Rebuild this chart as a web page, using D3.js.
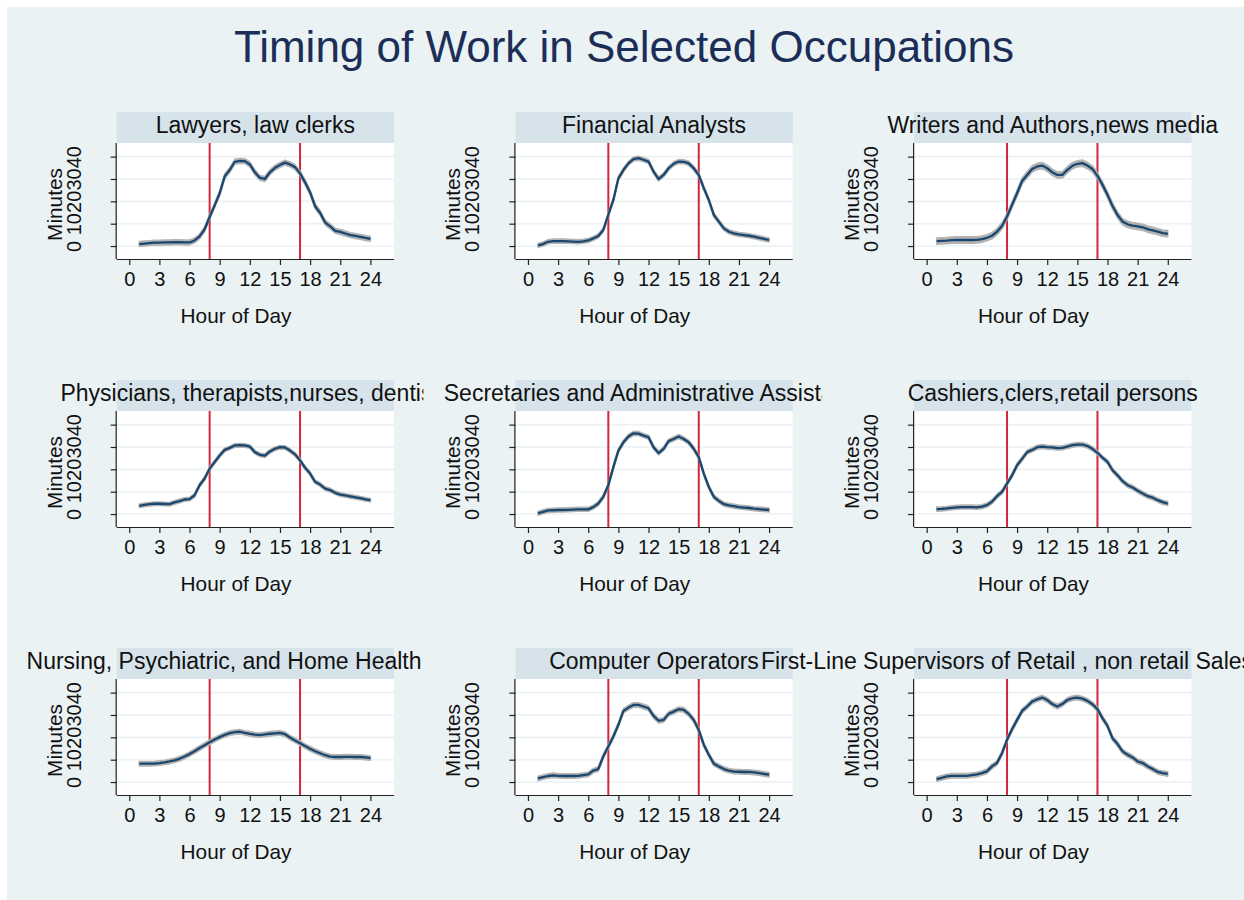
<!DOCTYPE html>
<html>
<head>
<meta charset="utf-8">
<script src="https://cdn.jsdelivr.net/npm/d3@7"></script>
<style>
  html, body { margin: 0; padding: 0; background: #ffffff; }
  svg { display: block; font-family: "Liberation Sans", Arial, sans-serif; }
</style>
</head>
<body>
<svg id="chart" width="1244" height="900"></svg>
<script>
// ---------------- DATA ----------------
const chartTitle = "Timing of Work in Selected Occupations";
const hours = [1,1.5,2,2.5,3,3.5,4,4.5,5,5.5,6,6.5,7,7.5,8,8.5,9,9.5,10,10.5,11,11.5,12,12.5,
               13,13.5,14,14.5,15,15.5,16,16.5,17,17.5,18,18.5,19,19.5,20,20.5,21,21.5,22,22.5,23,23.5,24];
const occupations = [
  "Lawyers, law clerks",
  "Financial Analysts",
  "Writers and Authors,news media",
  "Physicians, therapists,nurses, dentists",
  "Secretaries and Administrative Assistants",
  "Cashiers,clers,retail persons",
  "Nursing, Psychiatric, and Home Health Aides",
  "Computer Operators",
  "First-Line Supervisors of Retail , non retail Sales Workers"
];
const lawyers = [0.9,1.1,1.3,1.5,1.5,1.6,1.6,1.7,1.7,1.6,1.6,2.5,4.3,7.5,13.0,18.2,23.6,31.2,34.0,37.7,38.1,38.0,36.5,33.0,
  30.5,30.0,33.0,35.0,36.3,37.3,36.5,35.3,32.5,28.5,24.0,17.8,14.8,10.5,8.8,6.8,6.3,5.6,4.9,4.5,4.1,3.6,3.2];
const financial = [0.3,0.9,1.9,2.2,2.2,2.2,2.1,2.0,1.9,2.1,2.5,3.4,4.5,7.2,14.0,20.6,30.3,34.0,37.0,38.9,39.3,38.6,37.8,33.3,
  30.0,31.8,34.8,36.8,37.8,37.7,37.0,34.8,31.8,25.9,20.6,13.9,10.9,7.9,6.4,5.7,5.2,4.9,4.6,4.2,3.7,3.2,2.7];
const writers = [2.2,2.3,2.4,2.6,2.7,2.7,2.7,2.7,2.8,3.1,3.7,4.6,6.4,9.0,13.2,18.4,23.6,29.1,31.8,34.5,35.6,36.0,34.8,33.0,
  31.8,31.8,34.1,35.9,36.8,37.1,36.0,34.5,31.4,27.4,22.9,17.9,13.9,10.9,9.7,9.1,8.8,8.4,7.6,7.0,6.4,5.8,5.5];
const physicians = [3.7,4.1,4.4,4.6,4.6,4.5,4.4,5.2,5.8,6.5,6.7,8.4,12.9,15.9,20.3,23.3,26.2,28.7,29.6,30.7,30.8,30.7,30.2,27.7,
  26.5,26.1,28.0,29.2,29.9,29.8,28.4,26.7,24.0,20.7,18.1,14.4,13.2,11.4,10.7,9.5,8.7,8.3,7.9,7.5,7.1,6.6,6.2];
const secretaries = [0.3,1.0,1.6,1.7,1.8,1.8,1.9,2.0,2.1,2.1,2.1,3.1,4.7,7.7,12.9,21.0,28.4,32.1,34.7,36.1,36.0,35.1,34.4,29.9,
  27.3,29.2,32.6,33.6,34.7,33.6,32.1,29.2,25.5,18.1,12.1,7.7,5.9,4.4,3.9,3.5,3.1,2.9,2.7,2.4,2.2,2.0,1.8];
const cashiers = [2.2,2.3,2.5,2.8,3.0,3.1,3.1,3.1,3.0,3.3,4.0,5.5,8.0,9.9,13.6,17.3,21.8,24.7,27.7,28.7,29.9,30.2,29.9,29.8,
  29.5,29.6,30.2,30.8,31.1,31.1,30.4,29.2,27.4,25.2,23.3,19.6,17.3,14.7,12.9,11.9,10.4,9.2,8.0,7.3,6.2,5.3,4.7];
const nursing = [8.2,8.2,8.2,8.3,8.5,8.8,9.2,9.7,10.4,11.4,12.5,13.8,15.2,16.5,17.8,19.0,20.1,21.1,21.9,22.3,22.5,22.0,21.6,21.2,
  21.0,21.3,21.6,21.8,22.0,21.4,19.9,18.6,17.4,16.1,14.9,13.8,12.9,12.0,11.4,11.2,11.2,11.3,11.3,11.2,11.2,11.0,10.7];
const computerOps = [1.6,2.2,2.7,3.0,2.8,2.7,2.7,2.7,2.8,3.1,3.4,5.1,5.8,11.5,15.9,20.4,25.6,31.8,33.3,34.5,34.5,33.8,33.0,29.6,
  27.4,27.8,30.5,31.5,32.6,32.3,30.5,27.8,23.3,16.7,12.2,8.2,7.0,5.8,5.1,4.7,4.6,4.5,4.5,4.3,4.0,3.6,3.3];
const supervisors = [1.3,1.9,2.5,2.8,2.8,2.8,2.8,3.1,3.4,4.0,4.8,7.0,8.5,12.9,18.9,23.6,27.8,31.8,33.8,36.0,37.0,37.8,36.7,34.9,
  33.8,34.9,36.7,37.5,37.8,37.3,36.3,34.8,32.6,28.6,25.1,19.6,17.0,13.7,12.2,11.0,9.2,8.5,7.0,5.8,4.5,4.0,3.6];
const seriesValues = [lawyers, financial, writers, physicians, secretaries, cashiers, nursing, computerOps, supervisors];
const ciHalfWidth = [1.1, 0.9, 1.4, 0.8, 0.9, 0.9, 1.0, 1.0, 1.0];
const xTicks = [0,3,6,9,12,15,18,21,24];
const yTicks = [0,10,20,30,40];
const refHours = [8,17];
const xLabel = "Hour of Day";
const yLabel = "Minutes";

// ---------------- LAYOUT / STYLE ----------------
const W = 1244, H = 900;
const bgColor = "#eaf2f3", stripColor = "#d6e3ea", gridColor = "#eaf2f3";
const lineColor = "#1a476f", bandColor = "#b3b3b3", refColor = "#d1263b";
const textColor = "#111111", titleColor = "#1c2e57";
const plotW = 277.3, plotH = 116, stripH = 31;
const colStep = 398.7, rowStep = 268;
const firstLeft = 116.7, firstTop = 143;

const svg = d3.select("#chart");
svg.append("rect").attr("x", 7).attr("y", 7).attr("width", W - 7).attr("height", H - 7).attr("fill", bgColor);

svg.append("text")
  .attr("x", 624).attr("y", 62)
  .attr("text-anchor", "middle")
  .attr("font-size", 44)
  .attr("fill", titleColor)
  .text(chartTitle);

occupations.forEach((name, i) => {
  const c = i % 3, r = Math.floor(i / 3);
  const left = firstLeft + c * colStep;
  const top = firstTop + r * rowStep;
  const g = svg.append("g");

  // cell background (later cells paint over overflowing titles of earlier cells)
  g.append("rect")
    .attr("x", left - 92).attr("y", top - stripH - 8)
    .attr("width", colStep).attr("height", 250)
    .attr("fill", bgColor);

  const x = d3.scaleLinear().domain([-1.25, 26.35]).range([left, left + plotW]);
  const y = d3.scaleLinear().domain([-5.8, 46.1]).range([top + plotH, top]);

  // strip
  g.append("rect")
    .attr("x", left).attr("y", top - stripH)
    .attr("width", plotW).attr("height", stripH)
    .attr("fill", stripColor);
  g.append("text")
    .attr("x", left + plotW / 2).attr("y", top - stripH + 21)
    .attr("text-anchor", "middle")
    .attr("font-size", 23)
    .attr("fill", textColor)
    .text(name);

  // plot area
  g.append("rect")
    .attr("x", left).attr("y", top)
    .attr("width", plotW).attr("height", plotH)
    .attr("fill", "#ffffff");

  // gridlines
  g.append("g").selectAll("line").data(yTicks).join("line")
    .attr("x1", left).attr("x2", left + plotW)
    .attr("y1", d => y(d)).attr("y2", d => y(d))
    .attr("stroke", gridColor).attr("stroke-width", 1.6);

  // reference lines
  g.append("g").selectAll("line").data(refHours).join("line")
    .attr("x1", d => x(d)).attr("x2", d => x(d))
    .attr("y1", top).attr("y2", top + plotH)
    .attr("stroke", refColor).attr("stroke-width", 2);

  const vals = seriesValues[i];
  const ci = ciHalfWidth[i];
  const pts = hours.map((h, k) => ({ h, v: vals[k] }));

  g.append("path").datum(pts)
    .attr("d", d3.area().x(d => x(d.h)).y0(d => y(d.v - ci)).y1(d => y(d.v + ci)))
    .attr("fill", bandColor).attr("stroke", bandColor).attr("stroke-width", 1.5)
    .attr("stroke-linejoin", "round");

  g.append("path").datum(pts)
    .attr("d", d3.line().x(d => x(d.h)).y(d => y(d.v)))
    .attr("fill", "none").attr("stroke", lineColor).attr("stroke-width", 2.3)
    .attr("stroke-linejoin", "round");

  // x axis
  const xAxis = d3.axisBottom(x).tickValues(xTicks).tickSize(6).tickPadding(5).tickFormat(d3.format("d"));
  const gx = g.append("g").attr("transform", `translate(0,${top + plotH})`).call(xAxis);
  gx.select(".domain").attr("d", `M${left},0.5H${left + plotW}`).attr("stroke", "#222").attr("stroke-width", 1.2);
  gx.selectAll(".tick line").attr("stroke", "#222").attr("stroke-width", 1.2);
  gx.selectAll(".tick text")
    .attr("font-family", "Liberation Sans, Arial, sans-serif")
    .attr("font-size", 20).attr("fill", textColor)
    .attr("dy", null).attr("y", 27);

  // y axis
  const yAxis = d3.axisLeft(y).tickValues(yTicks).tickSize(6).tickFormat(d3.format("d"));
  const gy = g.append("g").attr("transform", `translate(${left},0)`).call(yAxis);
  gy.select(".domain").attr("d", `M-0.5,${top}V${top + plotH}`).attr("stroke", "#222").attr("stroke-width", 1.2);
  gy.selectAll(".tick line").attr("stroke", "#222").attr("stroke-width", 1.2);
  gy.selectAll(".tick text")
    .attr("font-family", "Liberation Sans, Arial, sans-serif")
    .attr("font-size", 20).attr("fill", textColor)
    .attr("x", null).attr("dy", null)
    .attr("text-anchor", "middle")
    .attr("transform", "translate(-36,0) rotate(-90)");

  // axis titles
  g.append("text")
    .attr("x", left + plotW / 2 - 19.3).attr("y", top + plotH + 63.7)
    .attr("text-anchor", "middle").attr("font-size", 20.8).attr("fill", textColor)
    .text(xLabel);
  g.append("text")
    .attr("transform", `translate(${left - 55},${top + plotH / 2 + 3.5}) rotate(-90)`)
    .attr("text-anchor", "middle").attr("font-size", 20.8).attr("fill", textColor)
    .text(yLabel);
});
</script>
</body>
</html>
